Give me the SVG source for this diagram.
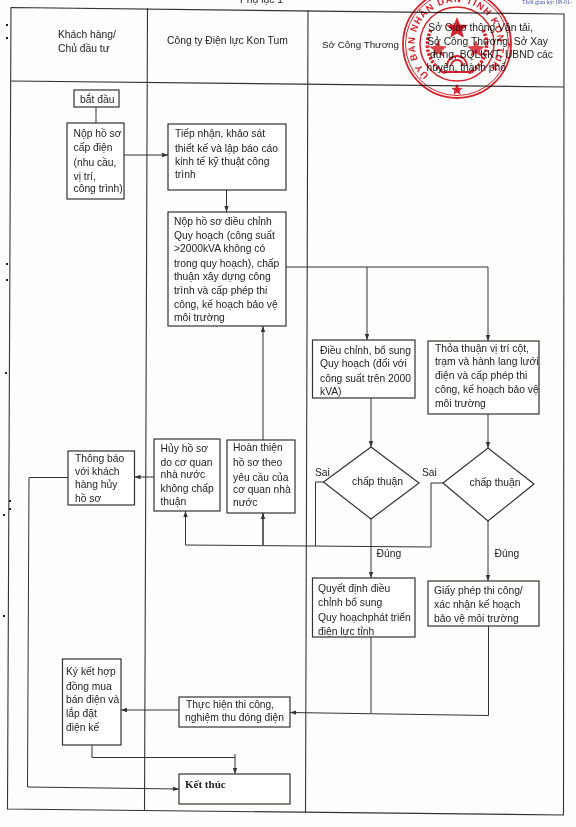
<svg xmlns="http://www.w3.org/2000/svg" width="576" height="827" viewBox="0 0 576 827">
<style>
.t{font-family:"Liberation Sans",Arial,sans-serif;font-size:10.3px;fill:#222}
.b{fill:#fff;stroke:#333;stroke-width:1.2}
.l{fill:none;stroke:#333;stroke-width:1}
.g{fill:none;stroke:#333;stroke-width:1.1}
.r{fill:none;stroke:#d8232f}
.s{fill:#d8232f}
.st{font-family:"Liberation Sans",Arial,sans-serif;font-weight:bold;font-size:9.5px;fill:#d8232f;letter-spacing:1.1px}
</style>
<defs>
<marker id="a" markerWidth="7" markerHeight="6" refX="6" refY="3" orient="auto" markerUnits="userSpaceOnUse"><path d="M0 .8L6 3L0 5.2z" fill="#333"/></marker>
<path id="arc" d="M429 75A41.500 41.500 0 1 1 481 77"/>
</defs>
<rect width="576" height="827" fill="#fdfdfb"/>
<g id="table">
<path class="g" d="M11 7.5L564 14L563.5 815L7.5 809Z"/>
<path class="g" d="M11 81L564 87M147.5 8L144.5 811M308 10L305.5 812"/>
</g>
<g id="connectors" class="l">
<path class="l" d="M96 107V123"/>
<path class="l" marker-end="url(#a)" d="M124 155H168"/>
<path class="l" marker-end="url(#a)" d="M226.500 190V212"/>
<path class="l" marker-end="url(#a)" d="M286 267H367V340"/>
<path class="l" marker-end="url(#a)" d="M367 267H488V341"/>
<path class="l" marker-end="url(#a)" d="M263 545V326"/>
<path class="l" marker-end="url(#a)" d="M371 398V447"/>
<path class="l" marker-end="url(#a)" d="M488 414V448"/>
<path class="l" d="M323.500 482H315.500V546"/>
<path class="l" marker-end="url(#a)" d="M443 483H431V547L185.500 545V511"/>
<path class="l" marker-end="url(#a)" d="M263 545V513"/>
<path class="l" marker-end="url(#a)" d="M371 519V578"/>
<path class="l" marker-end="url(#a)" d="M488 521V581"/>
<path class="l" marker-end="url(#a)" d="M154 477H134.500"/>
<path class="l" marker-end="url(#a)" d="M68 477.500H29L27.500 787L179 789"/>
<path class="l" d="M371 637V713"/>
<path class="l" marker-end="url(#a)" d="M488.500 626V715.500L290 712.500"/>
<path class="l" marker-end="url(#a)" d="M179 710H121"/>
<path class="l" d="M92 745V757.500H235"/>
<path class="l" marker-end="url(#a)" d="M235 754V774"/>
</g>
<g id="headers">
<text class="t"><tspan x="58" y="38">Khách hàng/</tspan><tspan x="58" y="52">Chủ đầu tư</tspan></text>
<text class="t" x="167" y="44">Công ty Điện lực Kon Tum</text>
<text class="t" x="322" y="48" style="font-size:9.8px">Sở Công Thương</text>
<text class="t" text-anchor="end"><tspan x="533" y="31">Sở Giao thông Vận tải,</tspan><tspan x="548" y="45">Sở Công Thương, Sở Xay</tspan><tspan x="553" y="58">dựng, BQLKKT, UBND các</tspan><tspan x="506" y="71">huyện, thành phố</tspan></text>
<text class="t" x="240" y="3">Phụ lục 1</text>
<text x="522" y="3.500" style="font-family:'Liberation Serif',serif;font-size:6px;fill:#3a4fb0">Thời gian ký: 08-01-</text>
</g>
<g id="n-start"><rect class="b" x="74" y="90" width="45" height="17"/><text class="t" x="80" y="103">bắt đầu</text></g>
<g id="n-submit"><rect class="b" x="67" y="123" width="57" height="76"/><text class="t"><tspan x="73.500" y="137">Nộp hồ sơ</tspan><tspan x="73.500" y="151">cấp điện</tspan><tspan x="73.500" y="166">(nhu cầu,</tspan><tspan x="73.500" y="180">vị trí,</tspan><tspan x="73.500" y="192">công trình)</tspan></text></g>
<g id="n-receive"><rect class="b" x="168" y="124" width="118" height="66"/><text class="t"><tspan x="175" y="137">Tiếp nhận, khảo sát</tspan><tspan x="175" y="152">thiết kế và lập báo cáo</tspan><tspan x="175" y="165">kinh tế kỹ thuật công</tspan><tspan x="175" y="178">trình</tspan></text></g>
<g id="n-adjust"><rect class="b" x="168" y="212" width="118" height="114"/><text class="t"><tspan x="174" y="225">Nộp hồ sơ điều chỉnh</tspan><tspan x="174" y="239">Quy hoạch (công suất</tspan><tspan x="174" y="252">&gt;2000kVA không có</tspan><tspan x="174" y="267">trong quy hoạch), chấp</tspan><tspan x="174" y="280">thuận xây dựng công</tspan><tspan x="174" y="294">trình và cấp phép thi</tspan><tspan x="174" y="308">công, kế hoạch bảo vệ</tspan><tspan x="174" y="321">môi trường</tspan></text></g>
<g id="n-plan"><rect class="b" x="312.500" y="340" width="102.500" height="58"/><text class="t"><tspan x="320" y="354">Điều chỉnh, bổ sung</tspan><tspan x="320" y="367">Quy hoạch (đối với</tspan><tspan x="320" y="382">công suất trên 2000</tspan><tspan x="320" y="395">kVA)</tspan></text></g>
<g id="n-agree"><rect class="b" x="428" y="341" width="111" height="73"/><text class="t"><tspan x="435" y="352">Thỏa thuận vị trí cột,</tspan><tspan x="435" y="365">trạm và hành lang lưới</tspan><tspan x="435" y="379">điện và cấp phép thi</tspan><tspan x="435" y="393">công, kế hoạch bảo vệ</tspan><tspan x="435" y="407">môi trường</tspan></text></g>
<g id="n-d1"><polygon class="b" points="371,447 419,483 371,519 323.500,482"/><text class="t" x="352" y="485">chấp thuận</text></g>
<g id="n-d2"><polygon class="b" points="488,448 534,484 488,521 443,483"/><text class="t" x="469.500" y="486">chấp thuận</text></g>
<g id="labels">
<text class="t" x="315" y="476">Sai</text><text class="t" x="422" y="476">Sai</text>
<text class="t" x="376.500" y="557">Đúng</text><text class="t" x="494.500" y="557">Đúng</text>
</g>
<g id="n-cancel"><rect class="b" x="154" y="439" width="66" height="72"/><text class="t"><tspan x="160.500" y="452">Hủy hồ sơ</tspan><tspan x="160.500" y="466">do cơ quan</tspan><tspan x="160.500" y="478">nhà nước</tspan><tspan x="160.500" y="492">không chấp</tspan><tspan x="160.500" y="505">thuận</tspan></text></g>
<g id="n-complete"><rect class="b" x="227" y="440" width="68" height="73"/><text class="t"><tspan x="233" y="451">Hoàn thiện</tspan><tspan x="233" y="466">hồ sơ theo</tspan><tspan x="233" y="481">yêu cầu của</tspan><tspan x="233" y="493">cơ quan nhà</tspan><tspan x="233" y="506">nước</tspan></text></g>
<g id="n-notify"><rect class="b" x="68" y="451" width="66.500" height="54"/><text class="t"><tspan x="75" y="462">Thông báo</tspan><tspan x="75" y="475">với khách</tspan><tspan x="75" y="488">hàng hủy</tspan><tspan x="75" y="502">hồ sơ</tspan></text></g>
<g id="n-decision"><rect class="b" x="312.500" y="578" width="102.500" height="59"/><text class="t"><tspan x="318" y="592">Quyết định điều</tspan><tspan x="318" y="606">chỉnh bổ sung</tspan><tspan x="318" y="621">Quy hoạchphát triển</tspan><tspan x="318" y="635">điện lực tỉnh</tspan></text></g>
<g id="n-permit"><rect class="b" x="428" y="581" width="111" height="45"/><text class="t"><tspan x="434" y="594">Giấy phép thi công/</tspan><tspan x="434" y="608">xác nhận kế hoạch</tspan><tspan x="434" y="622">bảo vệ môi trường</tspan></text></g>
<g id="n-build"><rect class="b" x="179" y="697" width="111" height="30"/><text class="t"><tspan x="186" y="708">Thực hiện thi công,</tspan><tspan x="185" y="721">nghiệm thu đóng điện</tspan></text></g>
<g id="n-contract"><rect class="b" x="62.500" y="659" width="58.500" height="86"/><text class="t"><tspan x="66" y="675">Ký kết hợp</tspan><tspan x="66" y="690">đồng mua</tspan><tspan x="66" y="703">bán điện và</tspan><tspan x="66" y="717">lắp đặt</tspan><tspan x="66" y="731">điện kế</tspan></text></g>
<g id="n-end"><rect class="b" x="179" y="774" width="111" height="30"/><text x="185" y="788" style="font-family:'Liberation Serif',serif;font-weight:bold;font-size:11px;fill:#222">Kết thúc</text></g>
<g id="stamp" style="mix-blend-mode:multiply">
<circle class="r" cx="457" cy="44" r="54" stroke-width="1.800"/>
<circle class="r" cx="457" cy="44" r="51.500" stroke-width="1"/>
<circle class="r" cx="457" cy="44" r="37" stroke-width="1.500"/>
<text class="st"><textPath href="#arc" startOffset="0">ỦY BAN NHÂN DÂN TỈNH KON TUM</textPath></text>
<path class="s" d="M457 84l1.600 3.800 4 .3-3.100 2.600 1 4-3.500-2.100-3.500 2.100 1-4-3.100-2.600 4-.3z"/>
<path class="s" d="M457 17l3 7.500 8 .5-6.200 5 2 7.800-6.800-4.300-6.800 4.300 2-7.800-6.200-5 8-.5z"/>
<path class="s" opacity=".85" d="M438 40l2.500 6 6.500.5-5 4 1.600 6.300-5.600-3.500-5.600 3.500 1.600-6.300-5-4 6.500-.5z"/>
<path class="s" opacity=".85" d="M476 40l2.500 6 6.500.5-5 4 1.600 6.300-5.600-3.500-5.600 3.500 1.600-6.300-5-4 6.500-.5z"/>
<path class="r" stroke-width="3.500" stroke-dasharray="2.500 1.500" d="M431 30A31 31 0 0 0 446 73M483 30A31 31 0 0 1 468 73"/>
<path class="r" stroke-width="1.800" d="M447 66A10 10 0 0 1 467 66M451 66A6 6 0 0 1 463 66M441 72H473"/>
</g>
<g id="specks" fill="#222">
<rect x="6" y="24" width="2" height="2"/><rect x="6" y="37" width="2" height="2"/><rect x="6" y="263" width="2" height="2"/><rect x="6" y="279" width="2" height="2"/><rect x="5" y="372" width="2" height="2"/><rect x="9" y="500" width="2" height="2"/><rect x="9" y="508" width="2" height="2"/><rect x="3" y="514" width="2" height="2"/><rect x="3" y="615" width="2" height="2"/>
</g>
</svg>
